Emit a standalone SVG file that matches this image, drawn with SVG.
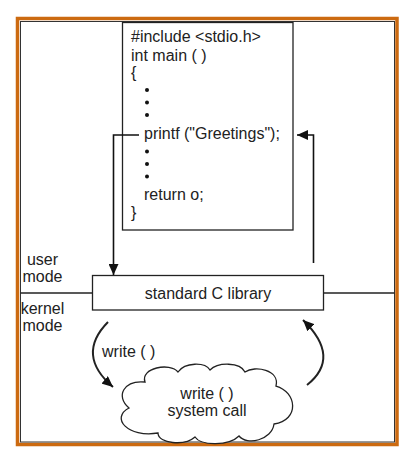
<svg xmlns="http://www.w3.org/2000/svg" width="409" height="456" viewBox="0 0 409 456">
<defs>
<style>
text{font-family:"Liberation Sans",Arial,sans-serif;font-size:16px;fill:#222}
.c{text-anchor:middle}
.box{fill:#fff;stroke:#222;stroke-width:1.3}
.ln{fill:none;stroke:#111;stroke-width:1.6}
.cv{fill:none;stroke:#222;stroke-width:2}
</style>
<marker id="ah" markerWidth="12" markerHeight="10" refX="11" refY="5" orient="auto" markerUnits="userSpaceOnUse">
<path d="M0,0 L11,5 L0,10 Z" fill="#111"/>
</marker>
</defs>
<rect x="0" y="0" width="409" height="456" fill="#fff"/>
<rect x="17.5" y="18.5" width="379.5" height="426" fill="none" stroke="#cc6a10" stroke-width="3.5"/>
<rect x="20.5" y="21.5" width="374" height="420.5" fill="none" stroke="#333" stroke-width="1"/>
<g id="mode-line">
<line x1="20.5" y1="293" x2="92.5" y2="293" stroke="#222" stroke-width="1.6"/>
<line x1="323.5" y1="293" x2="394.5" y2="293" stroke="#222" stroke-width="1.6"/>
</g>
<g id="code">
<rect class="box" x="122.5" y="22.5" width="170.5" height="207.5"/>
<text x="131" y="42">#include &lt;stdio.h&gt;</text>
<text x="131" y="61">int main ( )</text>
<text x="131" y="78">{</text>
<circle cx="147" cy="90" r="2" fill="#111"/>
<circle cx="147" cy="102.5" r="2" fill="#111"/>
<circle cx="147" cy="115" r="2" fill="#111"/>
<text x="144" y="139">printf ("Greetings");</text>
<circle cx="147" cy="151.5" r="2" fill="#111"/>
<circle cx="147" cy="164" r="2" fill="#111"/>
<circle cx="147" cy="176.5" r="2" fill="#111"/>
<text x="144" y="200">return o;</text>
<text x="131" y="218">}</text>
</g>
<g id="library">
<rect class="box" x="92.5" y="275.5" width="231" height="34.5"/>
<text class="c" x="208" y="299">standard C library</text>
</g>
<g id="labels">
<text class="c" x="42.5" y="265">user</text>
<text class="c" x="42.5" y="282">mode</text>
<text class="c" x="42.5" y="314">kernel</text>
<text class="c" x="42.5" y="331">mode</text>
<text x="102" y="357">write ( )</text>
</g>
<g id="syscall">
<path class="box" d="M145,382 C140,368 170,362 178,372 C185,362 205,362 210,370 C218,362 240,362 245,372 C255,365 280,370 276,386 C297,392 300,420 274,424 C272,440 247,446 239,436 C229,446 201,446 195,437 C185,446 158,444 158,433 C128,438 110,418 129,408 C115,396 124,380 145,382 Z"/>
<text class="c" x="207" y="399">write ( )</text>
<text class="c" x="207" y="416">system call</text>
</g>
<g id="connectors">
<path class="ln" d="M139,135 H113.5 V275" marker-end="url(#ah)"/>
<path class="ln" d="M313.5,263 V135 H297" marker-end="url(#ah)"/>
<path class="cv" d="M108,322 Q75.5,355 113,387" marker-end="url(#ah)"/>
<path class="cv" d="M307,385 Q341.6,357.5 303,320" marker-end="url(#ah)"/>
</g>
</svg>
